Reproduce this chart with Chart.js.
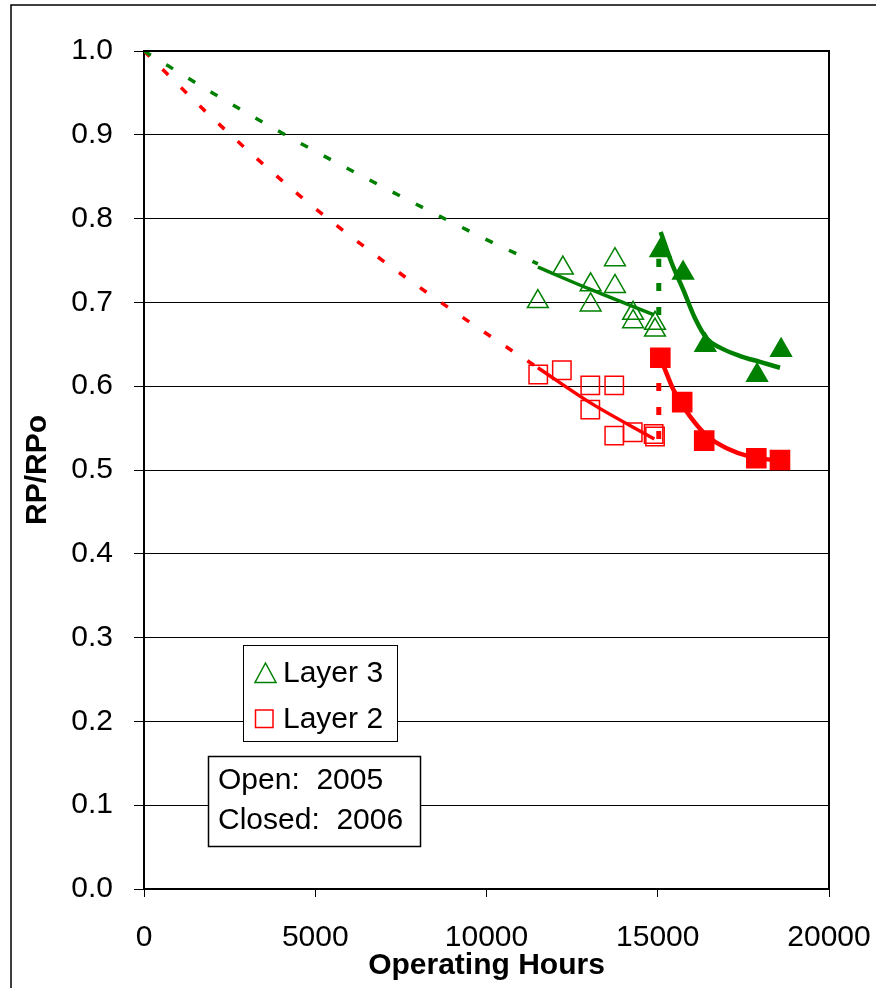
<!DOCTYPE html>
<html>
<head>
<meta charset="utf-8">
<script src="https://cdn.jsdelivr.net/npm/chart.js@4.4.1/dist/chart.umd.min.js"></script>
<style>
	body { margin: 0; background: #fff; }
	#wrap { width: 876px; height: 988px; }
</style>
</head>
<body>
<div id="wrap"><canvas id="rpChart" width="876" height="988"></canvas></div>
<script>
// values
const xTicks = [0, 5000, 10000, 15000, 20000];

const layer3OpenHours = [11500, 12230, 13040, 13040, 13750, 13750, 14280, 14280, 14920, 14920];
const layer3OpenRP = [0.701, 0.741, 0.721, 0.697, 0.751, 0.719, 0.687, 0.677, 0.675, 0.667];
const layer3ClosedHours = [15080, 15740, 16390, 17900, 18600];
const layer3ClosedRP = [0.762, 0.735, 0.649, 0.613, 0.643];

const layer2OpenHours = [11510, 12200, 13030, 13730, 13030, 13730, 14270, 14880, 14920];
const layer2OpenRP = [0.614, 0.619, 0.601, 0.601, 0.572, 0.541, 0.545, 0.543, 0.540];
const layer2ClosedHours = [15075, 15714, 16356, 17878, 18569];
const layer2ClosedRP = [0.634, 0.581, 0.535, 0.514, 0.512];

// trend lines
const l3DashHours = [0, 2000, 4300, 6400, 9900, 11500];
const l3DashRP = [1.0, 0.950, 0.896, 0.850, 0.777, 0.746];
const l3FitHours = [11500, 13000, 14900];
const l3FitRP = [0.742, 0.716, 0.685];
const l3ClosedFitHours = [15085, 15407, 15746, 16088, 16429, 16818, 17402, 17986, 18569];
const l3ClosedFitRP = [0.784, 0.747, 0.715, 0.681, 0.657, 0.646, 0.636, 0.629, 0.622];
const l3StepHours = [15030, 15030];
const l3StepRP = [0.685, 0.770];

const l2DashHours = [0, 2000, 4500, 7000, 9700, 11500];
const l2DashRP = [1.0, 0.920, 0.829, 0.749, 0.671, 0.622];
const l2FitHours = [11500, 13000, 14900];
const l2FitRP = [0.622, 0.581, 0.537];
const l2ClosedFitHours = [15085, 15260, 15455, 15699, 15942, 16429, 17012, 17693, 18560];
const l2ClosedFitRP = [0.633, 0.615, 0.596, 0.579, 0.564, 0.541, 0.526, 0.516, 0.511];
const l2StepHours = [15030, 15030];
const l2StepRP = [0.537, 0.634];

const GREEN = '#008000', RED = '#ff0000';
const FONT = "'Liberation Sans', Arial, sans-serif";

function pts(xs, ys) {
	return xs.map((x, i) => ({ x: x, y: ys[i] }));
}

function trend(xs, ys, color, width, dash, order) {
	return {
		data: pts(xs, ys),
		showLine: true,
		borderColor: color,
		borderWidth: width,
		borderDash: dash,
		borderCapStyle: 'butt',
		pointRadius: 0,
		cubicInterpolationMode: 'monotone',
		fill: false,
		order: order
	};
}

function marks(xs, ys, color, style, r, filled, order) {
	return {
		data: pts(xs, ys),
		showLine: false,
		pointStyle: style,
		pointRadius: r,
		pointBorderColor: color,
		pointBackgroundColor: filled ? color : 'rgba(0,0,0,0)',
		pointBorderWidth: 1.5,
		order: order
	};
}

// outer frame + top/right border of the plot
const framePlugin = {
	id: 'frame',
	beforeDraw(chart) {
		const ctx = chart.ctx;
		ctx.save();
		ctx.fillStyle = '#fff';
		ctx.fillRect(0, 0, chart.width, chart.height);
		ctx.strokeStyle = '#000';
		ctx.lineWidth = 1.5;
		ctx.beginPath();
		ctx.moveTo(11, chart.height);
		ctx.lineTo(11, 5);
		ctx.lineTo(chart.width, 5);
		ctx.stroke();
		ctx.restore();
	},
	afterDraw(chart) {
		const a = chart.chartArea, ctx = chart.ctx;
		ctx.save();
		ctx.strokeStyle = '#000';
		ctx.lineWidth = 2;
		ctx.beginPath();
		ctx.moveTo(a.left, a.top);
		ctx.lineTo(a.right, a.top);
		ctx.lineTo(a.right, a.bottom);
		ctx.stroke();
		ctx.restore();
	}
};

// legend box and the open/closed note
const boxesPlugin = {
	id: 'boxes',
	afterDatasetsDraw(chart) {
		const ctx = chart.ctx;
		ctx.save();
		ctx.font = '30px ' + FONT;
		ctx.textBaseline = 'middle';
		ctx.textAlign = 'left';

		ctx.fillStyle = '#fff';
		ctx.fillRect(243.5, 645.5, 154, 96);
		ctx.strokeStyle = '#000';
		ctx.lineWidth = 1;
		ctx.strokeRect(243.5, 645.5, 154, 96);

		ctx.strokeStyle = GREEN;
		ctx.lineWidth = 1.5;
		ctx.beginPath();
		ctx.moveTo(265.5, 663);
		ctx.lineTo(276, 682.5);
		ctx.lineTo(255, 682.5);
		ctx.closePath();
		ctx.stroke();

		ctx.strokeStyle = RED;
		ctx.strokeRect(255.5, 710, 17.5, 17.5);

		ctx.fillStyle = '#000';
		ctx.fillText('Layer 3', 283, 674);
		ctx.fillText('Layer 2', 283, 720);

		ctx.fillStyle = '#fff';
		ctx.fillRect(208.5, 756.5, 212, 90);
		ctx.strokeStyle = '#000';
		ctx.lineWidth = 1.5;
		ctx.strokeRect(208.5, 756.5, 212, 90);
		ctx.fillStyle = '#000';
		ctx.fillText('Open:  2005', 218, 781);
		ctx.fillText('Closed:  2006', 218, 821);
		ctx.restore();
	}
};

const ctx = document.getElementById('rpChart').getContext('2d');
const chart = new Chart(ctx, {
	type: 'scatter',
	data: {
		datasets: [
			trend(l3DashHours, l3DashRP, GREEN, 3.5, [8, 18], 1),
			trend(l3FitHours, l3FitRP, GREEN, 3.5, [], 1),
			trend(l3ClosedFitHours, l3ClosedFitRP, GREEN, 4.5, [], 1),
			trend(l3StepHours, l3StepRP, GREEN, 5, [8, 16], 1),
			trend(l2DashHours, l2DashRP, RED, 3.5, [8, 18], 1),
			trend(l2FitHours, l2FitRP, RED, 3.5, [], 1),
			trend(l2ClosedFitHours, l2ClosedFitRP, RED, 4.5, [], 1),
			trend(l2StepHours, l2StepRP, RED, 5, [8, 16], 1),
			marks(layer3OpenHours, layer3OpenRP, GREEN, 'triangle', 12, false, 2),
			marks(layer3ClosedHours, layer3ClosedRP, GREEN, 'triangle', 12, true, 2),
			marks(layer2OpenHours, layer2OpenRP, RED, 'rect', 13, false, 2),
			marks(layer2ClosedHours, layer2ClosedRP, RED, 'rect', 13.5, true, 2)
		]
	},
	options: {
		responsive: false,
		animation: false,
		events: [],
		layout: { padding: { top: 51, right: 47, left: 0, bottom: 0 } },
		plugins: {
			legend: { display: false },
			tooltip: { enabled: false }
		},
		scales: {
			x: {
				type: 'linear',
				min: 0,
				max: 20000,
				afterBuildTicks: (s) => { s.ticks = xTicks.map(v => ({ value: v })); },
				afterFit: (s) => { s.height = 99; s.paddingLeft = 0; s.paddingRight = 0; },
				ticks: {
					color: '#000',
					font: { family: FONT, size: 30 },
					padding: 23,
					maxRotation: 0,
					callback: (v) => String(v)
				},
				grid: { drawOnChartArea: false, drawTicks: true, tickLength: 8, color: '#000', lineWidth: 1 },
				border: { color: '#000', width: 2 },
				title: {
					display: true,
					text: 'Operating Hours',
					color: '#000',
					font: { family: FONT, size: 30, weight: 'bold' },
					padding: { top: 0, bottom: 4 }
				}
			},
			y: {
				min: 0,
				max: 1,
				afterFit: (s) => { s.width = 144; s.paddingTop = 0; s.paddingBottom = 0; },
				ticks: {
					stepSize: 0.1,
					color: '#000',
					font: { family: FONT, size: 30 },
					padding: 21,
					callback: (v) => v.toFixed(1)
				},
				grid: { color: '#000', lineWidth: 1, tickLength: 10 },
				border: { color: '#000', width: 2 },
				title: {
					display: true,
					text: 'RP/RPo',
					color: '#000',
					font: { family: FONT, size: 30, weight: 'bold' },
					padding: { top: 20, bottom: 0 }
				}
			}
		}
	},
	plugins: [framePlugin, boxesPlugin]
});
</script>
</body>
</html>
